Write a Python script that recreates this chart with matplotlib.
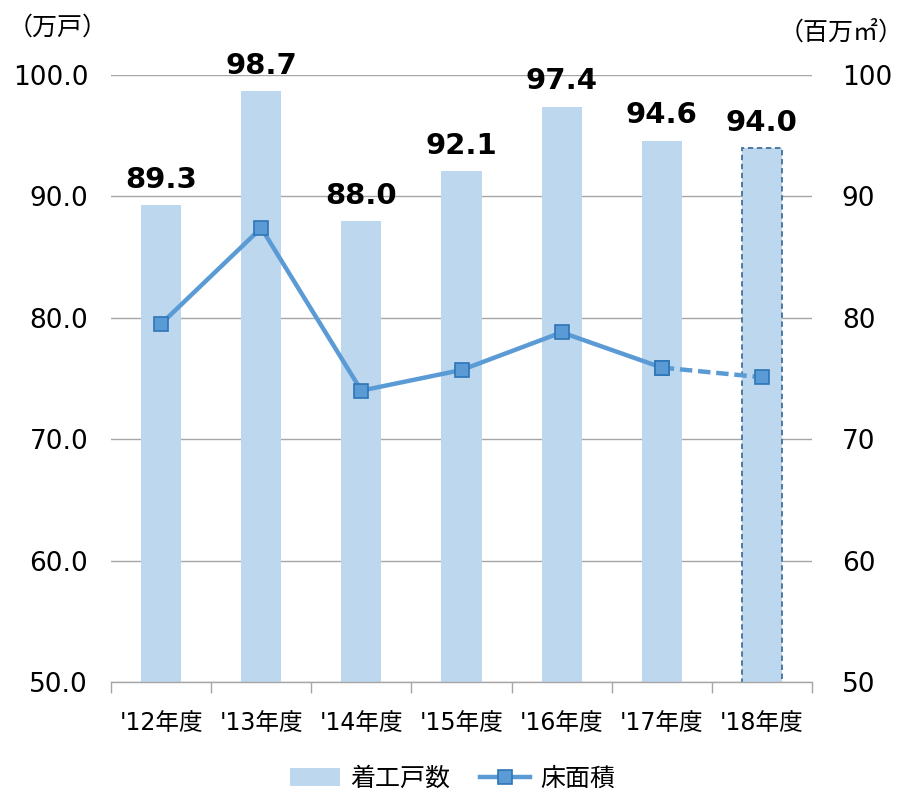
import matplotlib
matplotlib.use("Agg")
import matplotlib.pyplot as plt
from matplotlib.lines import Line2D
from matplotlib.patches import Patch

plt.rcParams['font.family'] = ['DejaVu Sans', 'Noto Sans CJK JP']

categories = ["'12年度", "'13年度", "'14年度", "'15年度", "'16年度", "'17年度", "'18年度"]
starts = [89.3, 98.7, 88.0, 92.1, 97.4, 94.6, 94.0]          # 着工戸数 (万戸)
floor_area = [79.5, 87.4, 74.0, 75.7, 78.8, 75.9, 75.1]     # 床面積 (百万㎡)
left_ticks = [50.0, 60.0, 70.0, 80.0, 90.0, 100.0]
right_ticks = [50, 60, 70, 80, 90, 100]

bar_color = '#BDD7EE'
line_color = '#5B9BD5'
edge_color = '#2E75B6'

fig = plt.figure(figsize=(9.05, 7.98), dpi=100)
ax = fig.add_axes([0.1227, 0.1454, 0.7745, 0.7606])
ax2 = ax.twinx()

x = list(range(len(categories)))
ax.bar(x[:-1], starts[:-1], width=0.4, color=bar_color, zorder=2)
ax.bar(x[-1], starts[-1], width=0.4, color=bar_color, edgecolor='#41719C',
       linestyle=(0, (3, 2)), linewidth=1.3, zorder=2)

for xi, v in zip(x, starts):
    ax.annotate(f"{v:.1f}", (xi, v), xytext=(0, 8), textcoords='offset points',
                ha='center', va='bottom', fontsize=21, fontweight='bold', color='black')

ax.set_ylim(50, 100)
ax.set_xlim(-0.5, len(categories) - 0.5)
ax.set_yticks(left_ticks)
ax.set_yticklabels([f"{t:.1f}" for t in left_ticks], fontsize=19)
ax.grid(axis='y', color='#A6A6A6', linewidth=1, zorder=0)
ax.set_axisbelow(True)
ax.tick_params(axis='y', length=0, pad=16.5)
ax.set_xticks(x)
ax.set_xticklabels(categories, fontsize=17)
ax.tick_params(axis='x', length=0, pad=21)
ax.set_xticks([i - 0.5 for i in range(len(categories) + 1)], minor=True)
ax.tick_params(axis='x', which='minor', length=8, color='#A6A6A6', width=1)
for s in ['left', 'right', 'top']:
    ax.spines[s].set_visible(False)
ax.spines['bottom'].set_color('#A6A6A6')
ax.spines['bottom'].set_linewidth(1)

ax2.set_ylim(50, 100)
ax2.set_yticks(right_ticks)
ax2.set_yticklabels([str(t) for t in right_ticks], fontsize=19)
ax2.tick_params(axis='y', length=0, pad=21.5)
for s in ['left', 'right', 'top', 'bottom']:
    ax2.spines[s].set_visible(False)

ax2.plot(x[:-1], floor_area[:-1], color=line_color, linewidth=3.2, zorder=3,
         marker='s', markersize=10, markerfacecolor=line_color, markeredgecolor=edge_color,
         markeredgewidth=1.2)
ax2.plot(x[-2:], floor_area[-2:], color=line_color, linewidth=3.2, linestyle=(0, (2.8, 1.3)), zorder=3)
ax2.plot(x[-2:], floor_area[-2:], linestyle='none', marker='s', markersize=10,
         markerfacecolor=line_color, markeredgecolor=edge_color, markeredgewidth=1.2, zorder=4)

fig.text(0.008, 0.966, '（万戸）', fontsize=18, ha='left', va='center',
         family=['Noto Sans CJK JP', 'DejaVu Sans'])
fig.text(0.998, 0.959, '（百万㎡）', fontsize=18, ha='right', va='center',
         family=['Noto Sans CJK JP', 'DejaVu Sans'])

handles = [Patch(facecolor=bar_color, edgecolor='none'),
           Line2D([0], [0], color=line_color, linewidth=3.2, marker='s', markersize=10,
                  markerfacecolor=line_color, markeredgecolor=edge_color, markeredgewidth=1.2)]
fig.legend(handles, ['着工戸数', '床面積'], loc='center', bbox_to_anchor=(0.5, 0.024),
           ncol=2, frameon=False, handlelength=2.0, handleheight=0.75,
           columnspacing=1.2, handletextpad=0.4, borderpad=0.2,
           prop={'family': ['Noto Sans CJK JP', 'DejaVu Sans'], 'size': 18})

fig.savefig('out.png', dpi=100)
